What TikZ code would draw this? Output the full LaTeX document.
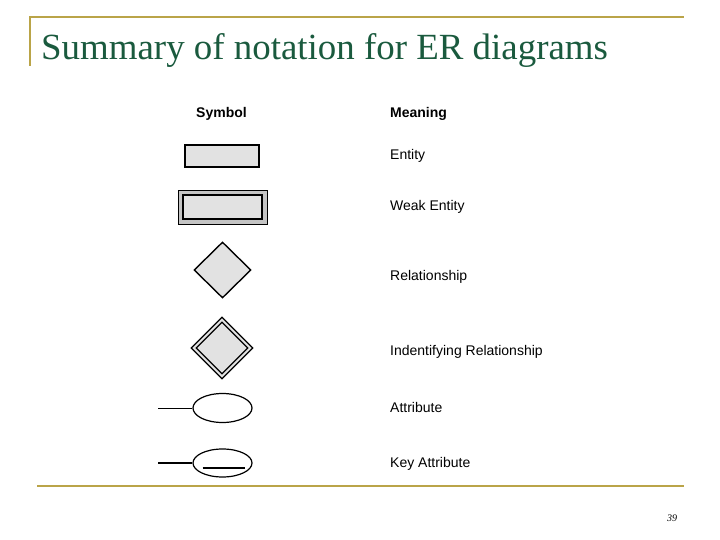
\documentclass[tikz,border=0pt]{standalone}
\usepackage{fontspec}
\setmainfont{Liberation Serif}
\setsansfont{Liberation Sans}
\usetikzlibrary{shapes.geometric}
\definecolor{gold}{RGB}{186,164,72}
\definecolor{titlegreen}{RGB}{26,90,62}
\definecolor{symfill}{RGB}{226,226,226}
\definecolor{bandgray}{RGB}{196,196,196}
\tikzset{
  meaning/.style={anchor=base west, inner sep=0pt, font=\sffamily\fontsize{14}{16}\selectfont},
  header/.style={meaning, font=\sffamily\bfseries\fontsize{14}{16}\selectfont},
  entitybox/.style={draw=black, line width=1.2pt, fill=symfill, minimum width=74pt, minimum height=22pt, inner sep=0pt},
  relbox/.style={diamond, draw=black, line width=1.4pt, fill=symfill, inner sep=0pt},
  attrbox/.style={ellipse, draw=black, line width=1.2pt, fill=white, minimum width=59pt, minimum height=29pt, inner sep=0pt},
  attrline/.style={draw=black, line width=1pt},
  rule/.style={draw=gold, line width=2.2pt}
}
\begin{document}
\begin{tikzpicture}[x=1pt,y=-1pt]
\useasboundingbox (0,0) rectangle (720,540);
% frame rules
\coordinate (tl) at (30,17);
\coordinate (tr) at (684,17);
\coordinate (tb) at (30,66);
\coordinate (bl) at (37,486);
\coordinate (br) at (684,486);
\draw[rule] (tb) -- (tl) -- (tr);
\draw[rule] (bl) -- (br);
% title
\node[anchor=base west, inner sep=0pt, text=titlegreen, font=\fontsize{36.9}{40}\selectfont] (title) at (41,60) {Summary of notation for ER diagrams};
% headers
\node[header] (hsym) at (196,118) {Symbol};
\node[header] (hmean) at (390,118) {Meaning};
% entity
\node[entitybox] (ent) at (222,156) {};
\node[meaning] (tent) at (390,160) {Entity};
% weak entity
\node[draw=black, line width=0.8pt, fill=bandgray, minimum width=89pt, minimum height=34pt, inner sep=0pt] (weako) at (222.5,207) {};
\node[draw=black, line width=1.4pt, fill=symfill, minimum width=79pt, minimum height=24pt, inner sep=0pt] (weaki) at (222.5,207) {};
\node[meaning] (tweak) at (390,211) {Weak Entity};
% relationship
\node[relbox, minimum width=57pt, minimum height=56pt] (rel) at (222.5,270) {};
\node[meaning] (trel) at (390,280) {Relationship};
% identifying relationship
\node[relbox, line width=1.2pt, minimum width=62pt, minimum height=62pt] (idro) at (222,348) {};
\node[relbox, line width=1.2pt, minimum width=52pt, minimum height=52pt] (idri) at (222,348) {};
\node[meaning] (tidr) at (390,355) {Indentifying Relationship};
% attribute
\node[attrbox] (attr) at (222.5,408) {};
\coordinate (attrend) at (158,408);
\draw[attrline] (attrend) -- (attr.west);
\node[meaning] (tattr) at (390,412) {Attribute};
% key attribute
\node[attrbox, minimum height=28pt] (key) at (222.5,463) {};
\coordinate (keyend) at (158,463);
\draw[attrline, line width=1.4pt] (keyend) -- (key.west);
\draw[line width=1.4pt] ([xshift=-20pt,yshift=-5pt]key.center) -- ([xshift=22pt,yshift=-5pt]key.center);
\node[meaning] (tkey) at (390,467) {Key Attribute};
% page number
\node[anchor=base, inner sep=0pt, font=\itshape\fontsize{10}{12}\selectfont] (pnum) at (672,521) {39};
\end{tikzpicture}
\end{document}
